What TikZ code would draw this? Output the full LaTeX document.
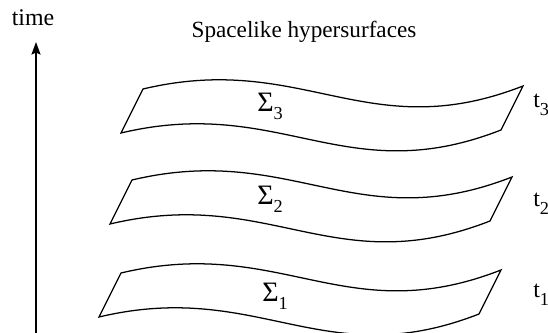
\documentclass[tikz,border=0pt]{standalone}
\usepackage{fontspec}
\setmainfont{Liberation Serif}
\usetikzlibrary{arrows.meta}

\newcommand{\sublabel}[3]{{\fontsize{#1}{#1}\selectfont #2}\raisebox{-5.5pt}{\fontsize{13}{13}\selectfont #3}}

\begin{document}
\begin{tikzpicture}[
  sheetline/.style={line width=0.9pt, line join=miter},
  timeaxis/.style={line width=0.9pt, -{Stealth[length=9pt,width=6.5pt,inset=1.5pt]}},
  lbl/.style={anchor=base west, inner sep=0pt}
]
\useasboundingbox (0,0) rectangle (13.7,8.325);

% time axis
\coordinate (axbot) at (0.9,0);
\coordinate (axtop) at (0.9,7.275);
\draw[timeaxis] (axbot) -- (axtop);
\node[anchor=base, inner sep=0pt] (timelbl) at (0.825,7.675) {\fontsize{17}{17}\selectfont time};

\node[anchor=base, inner sep=0pt] (title) at (7.6,7.375) {\fontsize{16.5}{16.5}\selectfont Spacelike hypersurfaces};

% hypersurfaces (top edge, right edge, bottom edge, left edge)
\draw[sheetline] (3.575,6.1) .. controls +(4.0,0.95) and +(-3.9,-1.525) .. ++(9.5,0.075)
  -- ++(-0.55,-1.1) .. controls +(-3.9,-1.525) and +(4.0,0.95) .. ++(-9.5,-0.075) -- cycle;
\draw[sheetline] (3.3,3.825) .. controls +(4.0,0.95) and +(-3.9,-1.525) .. ++(9.5,0.075)
  -- ++(-0.55,-1.1) .. controls +(-3.9,-1.525) and +(4.0,0.95) .. ++(-9.5,-0.075) -- cycle;
\draw[sheetline] (3.025,1.5) .. controls +(4.0,0.95) and +(-3.9,-1.525) .. ++(9.5,0.075)
  -- ++(-0.55,-1.1) .. controls +(-3.9,-1.525) and +(4.0,0.95) .. ++(-9.5,-0.075) -- cycle;

\node[lbl] (sig3) at (6.425,5.525) {\sublabel{20}{Σ}{3}};
\node[lbl] (sig2) at (6.425,3.2) {\sublabel{20}{Σ}{2}};
\node[lbl] (sig1) at (6.55,0.775) {\sublabel{20}{Σ}{1}};

\node[lbl] (t3) at (13.325,5.625) {\sublabel{17}{t}{3}};
\node[lbl] (t2) at (13.325,3.15) {\sublabel{17}{t}{2}};
\node[lbl] (t1) at (13.325,0.875) {\sublabel{17}{t}{1}};
\end{tikzpicture}
\end{document}
